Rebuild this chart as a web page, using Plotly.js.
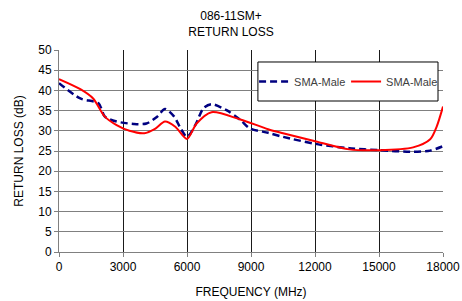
<!DOCTYPE html>
<html><head><meta charset="utf-8">
<script src="https://cdn.plot.ly/plotly-3.0.1.min.js"></script>
<style>html,body{margin:0;padding:0;background:#fff;}#chart{width:462px;height:301px;}</style>
</head><body><div id="chart"></div>
<script>
const freqBlue = [0, 1000, 1850, 2150, 2700, 3500, 4100, 4600, 4970, 5400, 5700, 6000, 6400, 6770, 7150, 7850, 8500, 8950, 9800, 10500, 12100, 13600, 15000, 16600, 17400, 18000];
const lossBlue = [41.8, 38.0, 36.8, 33.5, 32.3, 31.7, 31.8, 33.5, 35.4, 33.5, 30.6, 28.5, 31.5, 35.6, 36.6, 35.1, 32.7, 30.6, 29.5, 28.5, 26.7, 25.7, 25.2, 24.8, 25.1, 26.2];
const freqRed = [0, 1000, 1600, 2150, 2700, 3300, 4000, 4500, 4970, 5450, 6000, 6450, 7150, 8500, 9800, 10500, 12100, 13600, 15000, 16600, 17400, 17700, 18000];
const lossRed = [42.8, 40.3, 38.0, 33.5, 31.4, 30.0, 29.4, 30.5, 32.3, 31.0, 28.0, 31.8, 34.6, 32.8, 30.4, 29.4, 27.3, 25.4, 25.2, 25.9, 27.9, 31.0, 36.0];
const seriesNames = ["SMA-Male", "SMA-Male"];
const xTicks = [0, 3000, 6000, 9000, 12000, 15000, 18000];
const yTicks = [0, 5, 10, 15, 20, 25, 30, 35, 40, 45, 50];

const font = {family: "Liberation Sans, Arial, sans-serif", color: "#000", size: 12};
const traces = [
  {x: freqBlue, y: lossBlue, name: seriesNames[0], mode: "lines",
   line: {color: "#000080", width: 2.5, dash: "7px,4px", shape: "spline", smoothing: 0.8}},
  {x: freqRed, y: lossRed, name: seriesNames[1], mode: "lines",
   line: {color: "#ff0000", width: 2, shape: "spline", smoothing: 0.8}}
];
const layout = {
  width: 462, height: 301,
  margin: {l: 59, r: 19, t: 50, b: 49},
  paper_bgcolor: "#fff", plot_bgcolor: "#fff",
  font: font,
  title: {text: "086-11SM+<br>RETURN LOSS", font: {family: font.family, size: 12, color: "#000"},
          x: 0.5, xanchor: "center", y: 0.932, yanchor: "middle"},
  xaxis: {range: [0, 18000], tickvals: xTicks, ticktext: xTicks.map(String),
          showgrid: true, gridcolor: "#1a1a1a", gridwidth: 1, zeroline: false,
          showline: true, linecolor: "#808080", linewidth: 1, mirror: false,
          ticks: "outside", ticklen: 4, tickcolor: "#808080",
          title: {text: "FREQUENCY (MHz)", font: {family: font.family, size: 12}, standoff: 14},
          tickfont: {family: font.family, size: 12}},
  yaxis: {range: [0, 50], tickvals: yTicks, ticktext: yTicks.map(String),
          showgrid: true, gridcolor: "#808080", gridwidth: 1, zeroline: false,
          showline: true, linecolor: "#808080", linewidth: 1,
          ticks: "outside", ticklen: 4, tickcolor: "#808080",
          title: {text: "RETURN LOSS (dB)", font: {family: font.family, size: 12}, standoff: 12},
          tickfont: {family: font.family, size: 12}},
  shapes: [{type: "rect", xref: "paper", yref: "paper", x0: 0.518, x1: 0.987, y0: 0.7475, y1: 0.9406,
            line: {color: "#000", width: 1}, fillcolor: "#fff", layer: "above"}],
  showlegend: true,
  legend: {x: 0.508, y: 0.844, xanchor: "left", yanchor: "middle", orientation: "h",
           entrywidth: 47, entrywidthmode: "pixels",
           bgcolor: "rgba(0,0,0,0)", borderwidth: 0,
           font: {family: font.family, size: 11, color: "#404040"}}
};
Plotly.newPlot("chart", traces, layout, {displayModeBar: false, staticPlot: true});
</script></body></html>
